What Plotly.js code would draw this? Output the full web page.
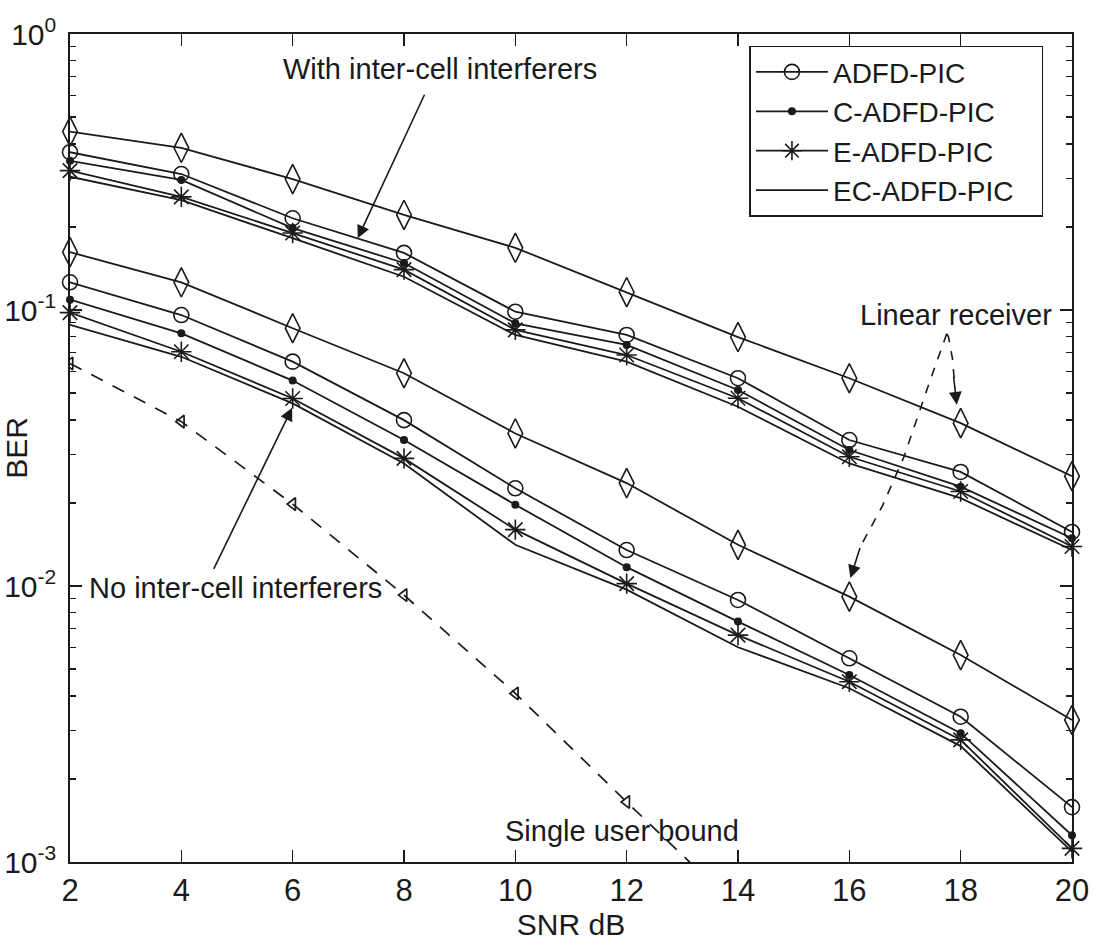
<!DOCTYPE html>
<html>
<head>
<meta charset="utf-8">
<script src="https://cdn.plot.ly/plotly-3.0.1.min.js"></script>
<style>html,body{margin:0;padding:0;background:#fff;}</style>
</head>
<body>
<div id="chart" style="width:1094px;height:949px;"></div>
<script>
// SNR (dB)
const snr = [2, 4, 6, 8, 10, 12, 14, 16, 18, 20];

// With inter-cell interferers
const adfdWith   = [0.373, 0.311, 0.215, 0.161, 0.0986, 0.0812, 0.0566, 0.0338, 0.0259, 0.0157];
const cAdfdWith  = [0.347, 0.296, 0.198, 0.148, 0.0895, 0.0747, 0.0513, 0.0311, 0.0229, 0.0149];
const eAdfdWith  = [0.320, 0.257, 0.190, 0.140, 0.0847, 0.0687, 0.0479, 0.0294, 0.0220, 0.0139];
const ecAdfdWith = [0.304, 0.250, 0.182, 0.132, 0.0812, 0.0650, 0.0446, 0.0278, 0.0208, 0.0135];
const linearWith = [0.443, 0.387, 0.298, 0.221, 0.168, 0.116, 0.0798, 0.0566, 0.0389, 0.0250];

// No inter-cell interferers
const adfdNo   = [0.126, 0.0959, 0.0650, 0.0399, 0.0226, 0.0135, 0.0089, 0.00547, 0.00336, 0.00158];
const cAdfdNo  = [0.109, 0.0823, 0.0555, 0.0338, 0.0197, 0.0117, 0.00743, 0.00476, 0.00293, 0.00125];
const eAdfdNo  = [0.0978, 0.0706, 0.0478, 0.0290, 0.0160, 0.0102, 0.00664, 0.00450, 0.00277, 0.00112];
const ecAdfdNo = [0.0883, 0.0677, 0.0459, 0.0278, 0.0141, 0.0097, 0.0060, 0.00426, 0.00263, 0.00109];
const linearNo = [0.162, 0.126, 0.0859, 0.0590, 0.0357, 0.0236, 0.0141, 0.00915, 0.00562, 0.00327];

// Single user bound
const snrBound = [2, 4, 6, 8, 10, 12, 14];
const singleUser = [0.064, 0.0394, 0.0198, 0.00927, 0.00408, 0.00165, 0.00068];

// Axis ticks
const yTickVals = [1, 0.1, 0.01, 0.001];
const yTickText = ['10<sup>0</sup>', '10<sup>-1</sup>', '10<sup>-2</sup>', '10<sup>-3</sup>'];
const xTickVals = [2, 4, 6, 8, 10, 12, 14, 16, 18, 20];

const names = ['ADFD-PIC', 'C-ADFD-PIC', 'E-ADFD-PIC', 'EC-ADFD-PIC'];

const INK = '#1a1a1a';
const FONT = '"Liberation Sans", Arial, sans-serif';
const LW = 1.8;
const PAD = '\u00a0\u00a0\u00a0';

const styles = [
  {mode: 'lines+markers', marker: {symbol: 'circle-open', size: 15, color: INK, line: {width: 1.6, color: INK}}},
  {mode: 'lines+markers', marker: {symbol: 'circle', size: 8, color: INK}},
  {mode: 'lines+markers', marker: {symbol: 'asterisk-open', size: 17, color: INK, line: {width: 1.6, color: INK}}},
  {mode: 'lines'}
];

function tr(y, i, show) {
  return Object.assign({
    x: snr, y: y, name: names[i] + PAD, legendgroup: names[i], showlegend: show,
    type: 'scatter', line: {color: INK, width: LW}, cliponaxis: false
  }, styles[i]);
}

const withSet = [adfdWith, cAdfdWith, eAdfdWith, ecAdfdWith];
const noSet = [adfdNo, cAdfdNo, eAdfdNo, ecAdfdNo];

const data = [];
withSet.forEach((y, i) => data.push(tr(y, i, true)));
noSet.forEach((y, i) => data.push(tr(y, i, false)));
[linearWith, linearNo].forEach(y => data.push({
  x: snr, y: y, type: 'scatter', mode: 'lines+markers', showlegend: false, cliponaxis: false,
  line: {color: INK, width: LW},
  marker: {symbol: 'diamond-tall-open', size: 21, color: INK, line: {width: 1.6, color: INK}}
}));
data.push({
  x: snrBound, y: singleUser, type: 'scatter', mode: 'lines+markers', showlegend: false, cliponaxis: true,
  line: {color: INK, width: 1.7, dash: '13px,11px'},
  marker: {symbol: 'triangle-left-open', size: 11, color: INK, line: {width: 1.7, color: INK}}
});

// helpers: data -> paper coordinates
const XR = [2, 20], YR = [-3, 0];
const px = x => (x - XR[0]) / (XR[1] - XR[0]);
const py = v => (Math.log10(v) - YR[0]) / (YR[1] - YR[0]);
const L = v => Math.log10(v);

const annFont = {family: FONT, size: 29, color: INK};
const arrowStyle = {showarrow: true, arrowhead: 2, arrowsize: 1.6, arrowwidth: 1.6, arrowcolor: INK, text: '',
  xref: 'x', yref: 'y', axref: 'x', ayref: 'y'};

const annotations = [
  Object.assign({x: 8.65, y: L(0.745), text: 'With inter-cell interferers', showarrow: false, font: annFont, xref: 'x', yref: 'y'}),
  Object.assign({}, arrowStyle, {x: 7.17, y: L(0.182), ax: 8.38, ay: L(0.61)}),
  Object.assign({x: 4.98, y: L(0.00984), text: 'No inter-cell interferers', showarrow: false, font: annFont, xref: 'x', yref: 'y'}),
  Object.assign({}, arrowStyle, {x: 5.99, y: L(0.0442), ax: 4.57, ay: L(0.0114)}),
  Object.assign({x: 17.92, y: L(0.096), text: 'Linear receiver', showarrow: false, font: annFont, xref: 'x', yref: 'y'}),
  Object.assign({x: 11.92, y: L(0.0013), text: 'Single user bound', showarrow: false, font: annFont, xref: 'x', yref: 'y'}),
  // arrowheads of the dashed pointers
  Object.assign({}, arrowStyle, {x: 17.93, y: L(0.0454), ax: 17.87, ay: L(0.058)}),
  Object.assign({}, arrowStyle, {x: 16.02, y: L(0.0107), ax: 16.2, ay: L(0.0139)})
];

function pathOf(pts) {
  return pts.map((p, i) => (i ? 'L' : 'M') + px(p[0]).toFixed(4) + ',' + py(p[1]).toFixed(4)).join(' ');
}
const shapes = [
  {type: 'path', xref: 'paper', yref: 'paper',
   path: pathOf([[17.75, 0.082], [17.78, 0.080], [17.85, 0.067], [17.9, 0.052]]),
   line: {color: INK, width: 1.6, dash: 'dash'}},
  {type: 'path', xref: 'paper', yref: 'paper',
   path: pathOf([[17.75, 0.082], [17.45, 0.0555], [16.98, 0.0293], [16.6, 0.0196], [16.2, 0.0139]]),
   line: {color: INK, width: 1.6, dash: 'dash'}}
];

const axisCommon = {
  showline: true, linecolor: INK, linewidth: 1.8, mirror: 'ticks',
  ticks: 'inside', tickcolor: INK, tickwidth: 1.6, ticklen: 12,
  showgrid: false, zeroline: false,
  tickfont: {family: FONT, size: 31, color: INK}
};

const layout = {
  width: 1094, height: 949,
  paper_bgcolor: '#fff', plot_bgcolor: '#fff',
  margin: {l: 70, r: 22, t: 34, b: 87, autoexpand: false},
  font: {family: FONT, color: INK},
  xaxis: Object.assign({}, axisCommon, {
    range: XR, tickmode: 'array', tickvals: xTickVals, ticklabelstandoff: 0,
    title: {text: 'SNR dB', font: {family: FONT, size: 30, color: INK}, standoff: 2}
  }),
  yaxis: Object.assign({}, axisCommon, {
    type: 'log', range: YR, tickmode: 'array', tickvals: yTickVals, ticktext: yTickText,
    tickfont: {family: FONT, size: 30, color: INK}, ticklabelstandoff: 6,
    minor: {dtick: 'D1', ticks: 'inside', ticklen: 6, tickwidth: 1.4, tickcolor: INK, showgrid: false},
    title: {text: 'BER', font: {family: FONT, size: 30, color: INK}, standoff: 0}
  }),
  legend: {
    x: 0.678, y: 0.986, xanchor: 'left', yanchor: 'top',
    bgcolor: '#fff', bordercolor: INK, borderwidth: 1.6,
    font: {family: FONT, size: 28, color: INK}, itemwidth: 72, tracegroupgap: 0
  },
  annotations: annotations,
  shapes: shapes,
  showlegend: true
};

Plotly.newPlot('chart', data, layout, {displayModeBar: false, staticPlot: true});
</script>
</body>
</html>
